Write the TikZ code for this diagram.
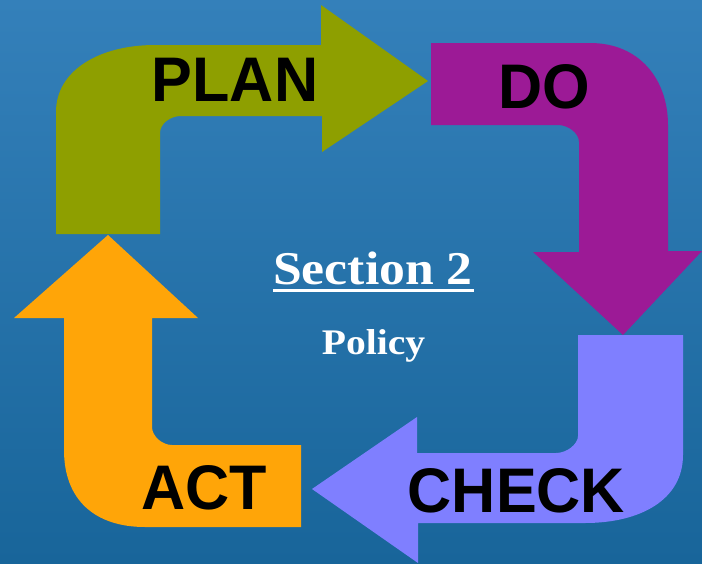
\documentclass[tikz,border=0pt]{standalone}
\usepackage{fontspec}
\setmainfont{Liberation Serif}
\newfontfamily\lblfont{Liberation Sans}[FakeStretch=0.97]
\newfontfamily\headfont{Liberation Serif}[FakeStretch=1.10]
\definecolor{bgtop}{HTML}{3480BA}
\definecolor{bgbot}{HTML}{18659A}
\definecolor{plancol}{HTML}{8E9F00}
\definecolor{docol}{HTML}{9C1A96}
\definecolor{checkcol}{HTML}{7F7FFF}
\definecolor{actcol}{HTML}{FFA508}
\tikzset{
  steplabel/.style={anchor=base,inner sep=0pt,text=black,font=\lblfont\bfseries\fontsize{63}{63}\selectfont},
  titlelabel/.style={anchor=base,inner sep=0pt,text=white,font=\headfont\bfseries\fontsize{47}{47}\selectfont},
  sublabel/.style={anchor=base,inner sep=0pt,text=white,font=\headfont\bfseries\fontsize{36}{36}\selectfont}
}
\begin{document}
\begin{tikzpicture}[x=1pt,y=-1pt]
\useasboundingbox (0,0) rectangle (702,563);
\shade[top color=bgtop,bottom color=bgbot] (0,0) rectangle (702,563);
% PLAN
\fill[plancol] (56,234) -- (56,112) .. controls (56,70) and (100,45) .. (155,45) -- (321,45) -- (321,5) -- (428,81) -- (322,152) -- (322,116) -- (181,116) .. controls (170,116) and (160,124) .. (160,133) -- (160,234) -- cycle;
% DO
\fill[docol] (431,43) -- (590,43) .. controls (640,43) and (668,80) .. (668,125) -- (668,251) -- (702,251) -- (623,335) -- (533,252) -- (579,252) -- (579,142) .. controls (579,133) and (568,125) .. (558,125) -- (431,125) -- cycle;
% CHECK
\fill[checkcol] (683,335) -- (683,455) .. controls (683,500) and (640,523) .. (585,523) -- (418,523) -- (418,563) -- (312,489) -- (417,417) -- (417,453) -- (556,453) .. controls (567,453) and (578,444) .. (578,436) -- (578,335) -- cycle;
% ACT
\fill[actcol] (301,445) -- (301,527) -- (145,527) .. controls (95,527) and (64,500) .. (64,450) -- (64,318) -- (14,318) -- (108,235) -- (198,318) -- (152,318) -- (152,427) .. controls (152,436) and (162,445) .. (172,445) -- cycle;
\node[steplabel] (plan) at (235,101) {PLAN};
\node[steplabel] (do) at (544.5,108) {DO};
\node[steplabel] (check) at (516.5,512) {CHECK};
\node[steplabel] (act) at (204,509) {ACT};
\node[titlelabel] (section) at (373,284) {Section 2};
\fill[white] (273,289) rectangle (474,292);
\node[sublabel] (policy) at (373.5,354) {Policy};
\end{tikzpicture}
\end{document}
